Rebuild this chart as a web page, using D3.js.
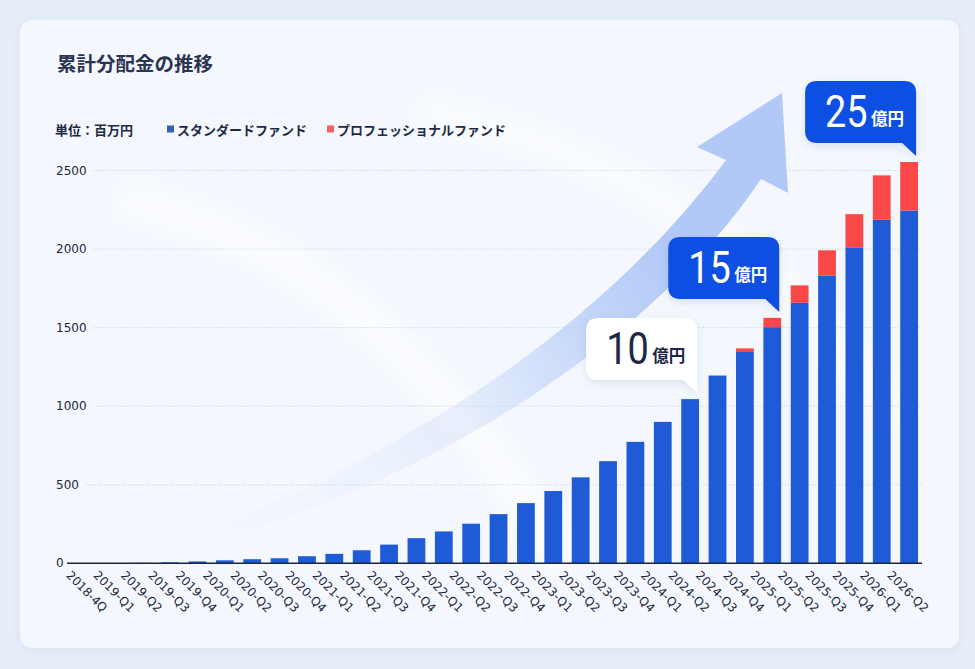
<!DOCTYPE html>
<html lang="ja">
<head>
<meta charset="utf-8">
<title>累計分配金の推移</title>
<script src="https://cdn.jsdelivr.net/npm/d3@7"></script>
<style>
  html, body { margin: 0; padding: 0; background: #e7eef9; }
  svg { display: block; }
  .jp { font-family: "Noto Sans CJK JP", "Noto Sans", sans-serif; }
  .tick-label { font-family: "DejaVu Sans", sans-serif; font-size: 12px; fill: #1c2640; }
</style>
</head>
<body>
<svg id="chart"></svg>
<script>
// ---- data ----
const categories = [
  "2018-4Q",
  "2019-Q1", "2019-Q2", "2019-Q3", "2019-Q4",
  "2020-Q1", "2020-Q2", "2020-Q3", "2020-Q4",
  "2021-Q1", "2021-Q2", "2021-Q3", "2021-Q4",
  "2022-Q1", "2022-Q2", "2022-Q3", "2022-Q4",
  "2023-Q1", "2023-Q2", "2023-Q3", "2023-Q4",
  "2024-Q1", "2024-Q2", "2024-Q3", "2024-Q4",
  "2025-Q1", "2025-Q2", "2025-Q3", "2025-Q4",
  "2026-Q1", "2026-Q2"
];

// 単位：百万円
const standardFund = [
  0.5, 1.5, 3, 6, 12,
  19, 26, 32, 45,
  60, 83, 119, 160,
  203, 252, 313, 383,
  460, 547, 650, 773,
  900, 1045, 1195, 1345,
  1503, 1658, 1830, 2011,
  2186, 2245
];

const professionalFund = [
  0, 0, 0, 0, 0,
  0, 0, 0, 0,
  0, 0, 0, 0,
  0, 0, 0, 0,
  0, 0, 0, 0,
  0, 0, 0, 23,
  59, 111, 162, 211,
  283, 309
];

const yTicks = [0, 500, 1000, 1500, 2000, 2500];

const seriesNames = ["スタンダードファンド", "プロフェッショナルファンド"];
const unitLabel = "単位：百万円";
const title = "累計分配金の推移";

// milestone callouts (億円)
const calloutCategories = ["2024-Q2", "2025-Q1", "2026-Q2"];
const calloutAmounts = ["10", "15", "25"];
const calloutDark = [false, true, true];

// ---- layout ----
const width = 975;
const height = 669;

const svg = d3.select("#chart")
  .attr("width", width)
  .attr("height", height);

const defs = svg.append("defs");

const cardShadow = defs.append("filter").attr("id", "cardShadow")
  .attr("x", "-5%").attr("y", "-5%").attr("width", "110%").attr("height", "110%");
cardShadow.append("feDropShadow")
  .attr("dx", 0).attr("dy", 2).attr("stdDeviation", 6)
  .attr("flood-color", "#8ea3c8").attr("flood-opacity", 0.18);

const boxShadow = defs.append("filter").attr("id", "boxShadow")
  .attr("x", "-30%").attr("y", "-30%").attr("width", "160%").attr("height", "170%");
boxShadow.append("feDropShadow")
  .attr("dx", 0).attr("dy", 3).attr("stdDeviation", 5)
  .attr("flood-color", "#5f78a8").attr("flood-opacity", 0.18);

const soft = defs.append("filter").attr("id", "soft")
  .attr("x", "-20%").attr("y", "-20%").attr("width", "140%").attr("height", "140%");
soft.append("feGaussianBlur").attr("stdDeviation", 10);

const arrowGrad = defs.append("linearGradient").attr("id", "arrowGrad")
  .attr("gradientUnits", "userSpaceOnUse")
  .attr("x1", 160).attr("y1", 550).attr("x2", 760).attr("y2", 150);
[[0, 0], [0.3, 0.1], [0.5, 0.32], [0.68, 0.75], [0.82, 1], [1, 1]].forEach(s => {
  arrowGrad.append("stop")
    .attr("offset", s[0])
    .attr("stop-color", "#b2c9f7")
    .attr("stop-opacity", s[1]);
});

// page background
svg.append("rect")
  .attr("width", width).attr("height", height)
  .attr("fill", "#e7eef9");

// card
svg.append("rect")
  .attr("x", 20).attr("y", 20)
  .attr("width", 939).attr("height", 628)
  .attr("rx", 12)
  .attr("fill", "#f4f8fe")
  .attr("filter", "url(#cardShadow)");

// barely visible light arcs on the card
const swirl = svg.append("g").attr("fill", "none").attr("filter", "url(#soft)");
swirl.append("path")
  .attr("d", "M 120 200 Q 380 250 560 560")
  .attr("stroke", "#ffffff").attr("stroke-width", 34).attr("opacity", 0.6);
swirl.append("path")
  .attr("d", "M 420 110 Q 700 160 900 420")
  .attr("stroke", "#ffffff").attr("stroke-width", 30).attr("opacity", 0.5);

// title
svg.append("text")
  .attr("class", "jp")
  .attr("x", 57).attr("y", 62)
  .attr("dominant-baseline", "central")
  .attr("font-size", 19.5)
  .attr("font-weight", 700)
  .attr("fill", "#2b3450")
  .text(title);

// unit + legend
const legendY = 129;
svg.append("text")
  .attr("class", "jp")
  .attr("x", 55).attr("y", legendY)
  .attr("dominant-baseline", "central")
  .attr("font-size", 13)
  .attr("font-weight", 700)
  .attr("fill", "#1e2a44")
  .text(unitLabel);

const legendColors = ["#2e63b0", "#f06262"];
const legendX = [167, 327];
seriesNames.forEach((name, i) => {
  svg.append("rect")
    .attr("x", legendX[i]).attr("y", legendY - 3.5)
    .attr("width", 7).attr("height", 7)
    .attr("fill", legendColors[i]);
  svg.append("text")
    .attr("class", "jp")
    .attr("x", legendX[i] + 10).attr("y", legendY)
    .attr("dominant-baseline", "central")
    .attr("font-size", 13)
    .attr("font-weight", 700)
    .attr("fill", "#1e2a44")
    .text(name);
});

// scales
const x = d3.scaleBand()
  .domain(categories)
  .range([74.3, 922.8])
  .paddingInner(0.35)
  .paddingOuter(0.175);

const y = d3.scaleLinear()
  .domain([0, 2500])
  .range([563.3, 170.5]);

// y labels + dotted grid
const yAxis = svg.append("g");
yTicks.forEach(t => {
  const lbl = yAxis.append("text")
    .attr("class", "tick-label")
    .attr("x", 56).attr("y", y(t))
    .attr("dominant-baseline", "central")
    .text(t);
  if (t > 0) {
    const w = lbl.node().getComputedTextLength();
    yAxis.append("line")
      .attr("x1", 56 + w + 7).attr("x2", 922)
      .attr("y1", y(t)).attr("y2", y(t))
      .attr("stroke", "#c3cbd8")
      .attr("stroke-width", 1)
      .attr("stroke-dasharray", "1,2");
  }
});

// trend arrow (decoration)
const arrowPath = d3.path();
arrowPath.moveTo(160, 549);
arrowPath.bezierCurveTo(400, 460, 600, 330, 726, 160);
arrowPath.lineTo(697, 147);
arrowPath.lineTo(782, 93);
arrowPath.lineTo(788, 193);
arrowPath.lineTo(761, 179);
arrowPath.bezierCurveTo(650, 345, 410, 500, 160, 553);
arrowPath.closePath();
svg.append("path")
  .attr("d", arrowPath.toString())
  .attr("fill", "url(#arrowGrad)");

// stacked bars
const stackData = categories.map((c, i) => ({
  category: c,
  standard: standardFund[i],
  professional: professionalFund[i]
}));
const stack = d3.stack().keys(["standard", "professional"]);
const series = stack(stackData);
const barColors = { standard: "#1f5bd6", professional: "#fa4747" };

svg.append("g")
  .selectAll("g")
  .data(series)
  .join("g")
  .attr("fill", d => barColors[d.key])
  .selectAll("rect")
  .data(d => d)
  .join("rect")
  .attr("x", d => x(d.data.category))
  .attr("width", x.bandwidth())
  .attr("y", d => y(d[1]))
  .attr("height", d => Math.max(0, y(d[0]) - y(d[1])));

// baseline
svg.append("line")
  .attr("x1", 67).attr("x2", 922)
  .attr("y1", y(0)).attr("y2", y(0))
  .attr("stroke", "#1c2640")
  .attr("stroke-width", 1.6);

// x labels, rotated
svg.append("g")
  .selectAll("text")
  .data(categories)
  .join("text")
  .attr("class", "tick-label")
  .attr("transform", d => `translate(${x(d) + x.bandwidth() / 2 - 22.5},576) rotate(45)`)
  .attr("text-anchor", "start")
  .text(d => d);

// callouts
calloutCategories.forEach((cat, i) => {
  const idx = categories.indexOf(cat);
  const total = standardFund[idx] + professionalFund[idx];
  const tipX = x(cat) + x.bandwidth() / 2 + 7;
  const tipY = y(total) - 6;
  const bw = 111, bh = 62, r = 12;
  const bx = tipX - bw;
  const by = tipY - 13 - bh;
  const dark = calloutDark[i];

  const p = d3.path();
  p.moveTo(bx + r, by);
  p.lineTo(bx + bw - r, by);
  p.quadraticCurveTo(bx + bw, by, bx + bw, by + r);
  p.lineTo(bx + bw, tipY);
  p.lineTo(bx + bw - 14, by + bh);
  p.lineTo(bx + r, by + bh);
  p.quadraticCurveTo(bx, by + bh, bx, by + bh - r);
  p.lineTo(bx, by + r);
  p.quadraticCurveTo(bx, by, bx + r, by);
  p.closePath();

  const g = svg.append("g");
  g.append("path")
    .attr("d", p.toString())
    .attr("fill", dark ? "#0a4fe3" : "#ffffff")
    .attr("filter", "url(#boxShadow)");

  const textColor = dark ? "#ffffff" : "#1c2748";
  g.append("text")
    .attr("transform", `translate(${bx + 20},${by + bh - 16}) scale(0.86,1)`)
    .attr("font-family", "Roboto, 'DejaVu Sans', sans-serif")
    .attr("font-size", 44)
    .attr("font-weight", 400)
    .attr("fill", textColor)
    .text(calloutAmounts[i]);
  g.append("text")
    .attr("class", "jp")
    .attr("x", bx + 66).attr("y", by + bh - 18)
    .attr("font-size", 16.5)
    .attr("font-weight", 700)
    .attr("fill", textColor)
    .text("億円");
});
</script>
</body>
</html>
